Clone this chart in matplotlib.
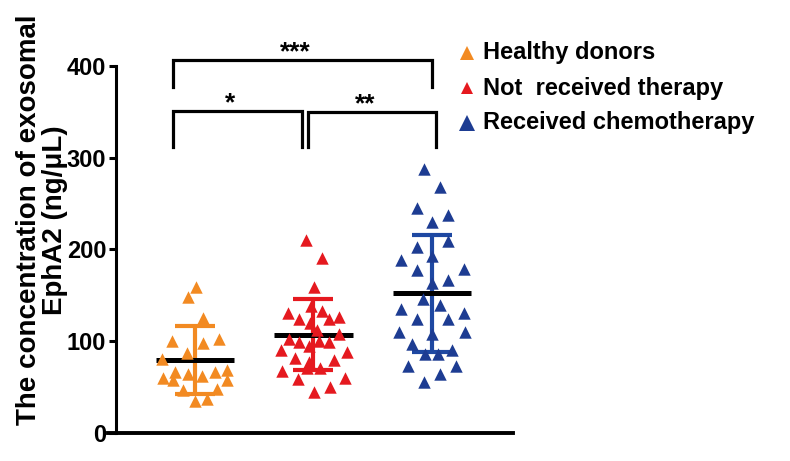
import matplotlib
matplotlib.use("Agg")
import matplotlib.pyplot as plt
from matplotlib.lines import Line2D

plt.rcParams['font.family'] = ['Liberation Sans', 'DejaVu Sans']
plt.rcParams['font.weight'] = 'bold'

groups = ["Healthy donors", "Not  received therapy", "Received chemotherapy"]
colors = ["#F28A22", "#E5191F", "#1D3C92"]
bar_colors = ["#F28A22", "#E5191F", "#1E48A2"]

# values (ng/uL) with their horizontal jitter
healthy = [159, 148, 125, 100, 102, 98, 87, 80, 60, 66, 57, 64, 62, 66, 68, 57, 46, 48, 35, 37]
healthy_dx = [0.006, -0.062, 0.065, -0.197, 0.203, 0.065, -0.065, -0.281, -0.267, -0.169,
              -0.183, -0.057, 0.057, 0.169, 0.273, 0.273, -0.099, 0.183, 0.0, 0.099]

untreated = [210, 191, 159, 130, 124, 133, 124, 126, 120, 102, 99, 95, 100, 99, 108, 90, 81,
             77, 79, 88, 67, 70, 70, 59, 50, 60, 44, 138, 112]
untreated_dx = [-0.062, 0.073, 0.003, -0.214, -0.124, 0.073, 0.135, 0.219, -0.025, -0.208,
                -0.124, -0.040, 0.045, 0.135, 0.219, -0.270, -0.158, -0.040, 0.171, 0.284,
                -0.264, -0.053, 0.059, -0.132, 0.143, 0.270, 0.003, -0.02, 0.03]

chemo = [288, 268, 245, 237, 230, 209, 203, 188, 193, 177, 179, 166, 163, 146, 139, 135, 124,
         124, 130, 110, 110, 108, 97, 86, 86, 90, 73, 73, 64, 55]
chemo_dx = [-0.065, 0.068, -0.129, 0.138, 0.003, 0.138, -0.129, -0.264, -0.003, -0.129, 0.270,
            0.138, -0.003, -0.073, 0.068, -0.264, -0.129, 0.138, 0.270, -0.276, 0.278, -0.003,
            -0.166, -0.059, 0.053, 0.166, -0.200, 0.203, 0.068, -0.065]

means = [79, 107, 152]
sds = [37, 39, 64]

# significance brackets: (x_left, x_right, top, leg_bottom, label)
brackets = [(0.814, 3.0, 406, 377, "***"),
            (0.814, 1.903, 351, 312, "*"),
            (1.954, 3.034, 350, 312, "**")]

fig = plt.figure(figsize=(7.9, 4.61), dpi=100)
ax = fig.add_axes([108 / 790, 0.0616, (513 - 108) / 790, 0.8152])

data = [(healthy, healthy_dx), (untreated, untreated_dx), (chemo, chemo_dx)]
for i, (vals, dx) in enumerate(data):
    pos = i + 1
    ax.errorbar(pos, means[i], yerr=sds[i], fmt='none', ecolor=bar_colors[i],
                elinewidth=3, capsize=14.5, capthick=3, zorder=2)
    ax.hlines(means[i], pos - 0.33, pos + 0.33, color='black', lw=3.6, zorder=3)
    ax.scatter([pos + d for d in dx], vals, marker='^', s=80, color=colors[i],
               linewidths=0, zorder=4)

for x0, x1, top, bot, label in brackets:
    ax.plot([x0, x0, x1, x1], [bot, top, top, bot], color='black', lw=2.3,
            clip_on=False, solid_joinstyle='miter')
    ax.text((x0 + x1) / 2 - 0.06, top + 1, label, ha='center', va='baseline',
            fontsize=19, fontweight='bold', clip_on=False)

ax.set_xlim(0.266, 3.684)
ax.set_ylim(0, 410)
ax.set_yticks([0, 100, 200, 300, 400])
ax.set_xticks([])
ax.spines['top'].set_visible(False)
ax.spines['right'].set_visible(False)
ax.spines['left'].set_position(('data', 0.333))
ax.spines['left'].set_bounds(0, 400)
ax.spines['left'].set_linewidth(2.2)
ax.spines['bottom'].set_linewidth(2.8)
ax.tick_params(axis='y', direction='out', length=5, width=2.2, labelsize=17, pad=2)
for t in ax.get_yticklabels():
    t.set_fontweight('bold')

fig.text(42 / 790, 1 - 220 / 461, "The concentration of exosomal\nEphA2 (ng/\u03bcL)",
         rotation=90, ha='center', va='center', fontsize=20, fontweight='bold',
         linespacing=0.95)

legend_y = [53, 88, 123]
marker_sizes = [9.5, 9, 12]
for i, name in enumerate(groups):
    yf = 1 - legend_y[i] / 461
    fig.add_artist(Line2D([467 / 790], [yf], transform=fig.transFigure, marker='^',
                          markersize=marker_sizes[i], color=colors[i], linestyle='none',
                          markeredgewidth=0))
    fig.text(483 / 790, yf, name, ha='left', va='center', fontsize=17, fontweight='bold')

fig.savefig("out.png", dpi=100)
